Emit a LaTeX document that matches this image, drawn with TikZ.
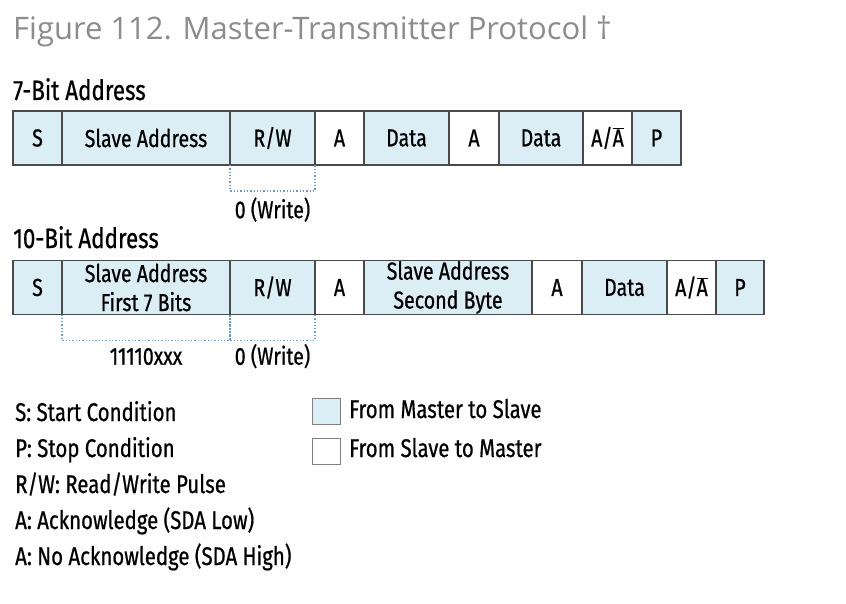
\documentclass[tikz,border=0pt]{standalone}
\usepackage{fontspec}
\setmainfont[FakeStretch=0.8, FakeBold=0.7]{Fira Sans}
\newfontfamily\titlefont{Open Sans}
\usetikzlibrary{positioning}
\definecolor{msfill}{HTML}{DCEEF5}
\definecolor{framegray}{HTML}{4A4A4A}
\definecolor{dotblue}{HTML}{6C9AC3}
\definecolor{titlegray}{HTML}{8C8C8C}

\begin{document}
\begin{tikzpicture}[x=1pt, y=-1pt,
  field/.style={rectangle, draw=framegray, line width=1.2pt, minimum height=54pt, inner sep=0pt, outer sep=0pt, align=center, font=\fontsize{24.5}{29}\selectfont},
  master/.style={field, fill=msfill},
  slave/.style={field, fill=white},
  bracket/.style={draw=dotblue, dotted, line width=1.3pt},
  note/.style={inner sep=0pt, text height=18pt, text depth=5pt, font=\fontsize{24.5}{29}\selectfont},
  heading/.style={anchor=base west, inner sep=0pt, font=\fontsize{28}{32}\selectfont},
  legend/.style={anchor=base west, inner sep=0pt, font=\fontsize{25.5}{29}\selectfont},
  key/.style={rectangle, draw=gray, line width=1pt, minimum width=28pt, minimum height=26pt, inner sep=0pt}
]
\useasboundingbox (0,0) rectangle (846,604);

\node[anchor=base west, inner sep=0pt, text=titlegray, font=\titlefont\fontsize{31}{35}\selectfont] (title) at (13,40) {Figure 112. Master-Transmitter Protocol \textdagger};

% 7-bit address
\node[heading] (head7) at (13,100) {7-Bit Address};
\node[master, minimum width=49pt, anchor=west] (s7) at (13,138) {S};
\node[master, minimum width=168pt, right=0pt of s7] (addr7) {Slave Address};
\node[master, minimum width=85pt, right=0pt of addr7] (rw7) {R/W};
\node[slave, minimum width=49pt, right=0pt of rw7] (ack7a) {A};
\node[master, minimum width=85pt, right=0pt of ack7a] (data7a) {Data};
\node[slave, minimum width=50pt, right=0pt of data7a] (ack7b) {A};
\node[master, minimum width=84pt, right=0pt of ack7b] (data7b) {Data};
\node[slave, minimum width=49pt, right=0pt of data7b] (nack7) {A/$\overline{\hbox{A}}$};
\node[master, minimum width=49pt, right=0pt of nack7] (p7) {P};

\draw[bracket] (rw7.south west) -- ++(0,26) -| (rw7.south east);
\node[note, below=35pt of rw7] (wr7) {0 (Write)};

% 10-bit address
\node[heading] (head10) at (13,248) {10-Bit Address};
\node[master, minimum width=49pt, anchor=west] (s10) at (13,287.5) {S};
\node[master, minimum width=168pt, right=0pt of s10] (addr10) {Slave Address\\First 7 Bits};
\node[master, minimum width=85pt, right=0pt of addr10] (rw10) {R/W};
\node[slave, minimum width=49pt, right=0pt of rw10] (ack10a) {A};
\node[master, minimum width=168pt, right=0pt of ack10a] (byte10) {Slave Address\\Second Byte};
\node[slave, minimum width=50pt, right=0pt of byte10] (ack10b) {A};
\node[master, minimum width=85pt, right=0pt of ack10b] (data10) {Data};
\node[slave, minimum width=49pt, right=0pt of data10] (nack10) {A/$\overline{\hbox{A}}$};
\node[master, minimum width=48pt, right=0pt of nack10] (p10) {P};

\draw[bracket] (addr10.south west) -- ++(0,26) -| (addr10.south east);
\draw[bracket] (rw10.south west) -- ++(0,26) -| (rw10.south east);
\node[note, below=32pt of addr10] (bits10) {11110xxx};
\node[note, below=32pt of rw10] (wr10) {0 (Write)};

% legend
\node[legend] (lgs) at (15,421) {S: Start Condition};
\node[legend] (lgp) at (15,457) {P: Stop Condition};
\node[legend] (lgrw) at (15,493) {R/W: Read/Write Pulse};
\node[legend] (lga) at (15,529) {A: Acknowledge (SDA Low)};
\node[legend] (lgna) at (15,565) {A: No Acknowledge (SDA High)};

\node[key, fill=msfill] (keyms) at (326,411.5) {};
\node[key, fill=white] (keysm) at (326,451) {};
\node[legend] (lgms) at (349,418) {From Master to Slave};
\node[legend] (lgsm) at (349,457) {From Slave to Master};

\end{tikzpicture}
\end{document}
